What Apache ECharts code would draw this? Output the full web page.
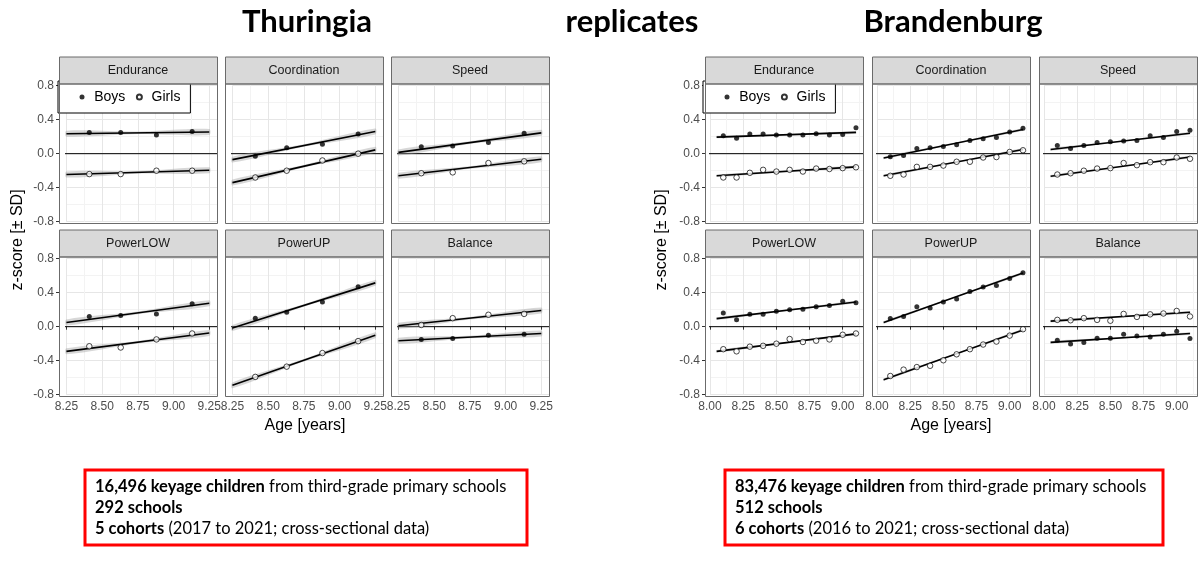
<!DOCTYPE html>
<html><head><meta charset="utf-8">
<script src="https://cdn.jsdelivr.net/npm/echarts@6/dist/echarts.min.js"></script>
<style>html,body{margin:0;padding:0;background:#fff}#c{width:1200px;height:585px}</style>
</head><body><div id="c"></div>
<script>
// ---------------- DATA ----------------
const panels = ['Endurance', 'Coordination', 'Speed', 'PowerLOW', 'PowerUP', 'Balance'];

// Thuringia
const thAges = [8.41, 8.63, 8.88, 9.13];
const thBoys = [
  [0.25, 0.25, 0.22, 0.26],
  [-0.03, 0.07, 0.11, 0.23],
  [0.08, 0.09, 0.13, 0.24],
  [0.12, 0.13, 0.15, 0.27],
  [0.10, 0.17, 0.29, 0.47],
  [-0.15, -0.14, -0.10, -0.09]
];
const thGirls = [
  [-0.24, -0.24, -0.20, -0.20],
  [-0.28, -0.20, -0.08, 0.00],
  [-0.23, -0.22, -0.11, -0.09],
  [-0.23, -0.245, -0.15, -0.08],
  [-0.59, -0.47, -0.31, -0.17],
  [0.02, 0.10, 0.14, 0.15]
];
const thFitX = [8.25, 9.25];
const thFitBoys = [[0.235, 0.255], [-0.07, 0.26], [0.015, 0.245], [0.05, 0.275], [-0.015, 0.515], [-0.165, -0.08]];
const thFitGirls = [[-0.245, -0.195], [-0.34, 0.045], [-0.26, -0.065], [-0.29, -0.075], [-0.69, -0.10], [0.01, 0.19]];
const thBandHalf = [0.035, 0.015, 0.035];
const thXLim = [8.198, 9.304];

// Brandenburg
const brAges = [8.1, 8.2, 8.3, 8.4, 8.5, 8.6, 8.7, 8.8, 8.9, 9.0, 9.1];
const brBoys = [
  [0.21, 0.18, 0.23, 0.23, 0.22, 0.22, 0.22, 0.235, 0.22, 0.225, 0.305],
  [-0.035, -0.02, 0.06, 0.07, 0.085, 0.105, 0.155, 0.175, 0.19, 0.255, 0.30],
  [0.095, 0.06, 0.095, 0.13, 0.14, 0.15, 0.155, 0.21, 0.19, 0.26, 0.275],
  [0.16, 0.08, 0.145, 0.145, 0.18, 0.20, 0.205, 0.235, 0.25, 0.30, 0.28],
  [0.095, 0.12, 0.235, 0.22, 0.29, 0.325, 0.415, 0.465, 0.485, 0.565, 0.635],
  [-0.16, -0.205, -0.185, -0.135, -0.135, -0.09, -0.11, -0.12, -0.09, -0.055, -0.14]
];
const brGirls = [
  [-0.28, -0.28, -0.225, -0.19, -0.21, -0.19, -0.21, -0.175, -0.18, -0.17, -0.16],
  [-0.26, -0.245, -0.155, -0.155, -0.14, -0.095, -0.095, -0.045, -0.04, 0.02, 0.04],
  [-0.245, -0.23, -0.20, -0.175, -0.17, -0.11, -0.135, -0.10, -0.10, -0.045, -0.06],
  [-0.265, -0.29, -0.235, -0.225, -0.20, -0.145, -0.18, -0.165, -0.15, -0.095, -0.08],
  [-0.58, -0.505, -0.475, -0.46, -0.395, -0.325, -0.265, -0.21, -0.175, -0.105, -0.03],
  [0.08, 0.075, 0.10, 0.08, 0.07, 0.15, 0.115, 0.145, 0.155, 0.185, 0.12]
];
const brFitX = [8.05, 9.1];
const brFitBoys = [[0.195, 0.25], [-0.05, 0.285], [0.05, 0.24], [0.095, 0.29], [0.05, 0.63], [-0.185, -0.08]];
const brFitGirls = [[-0.26, -0.155], [-0.26, 0.05], [-0.265, -0.04], [-0.29, -0.085], [-0.625, -0.04], [0.065, 0.17]];
const brBandHalf = [0.015, 0.007, 0.015];
const brXLim = [7.962, 9.153];

const yLim = [-0.815, 0.825];
const yTickMin = -0.8, yTickMax = 0.8, yTickStep = 0.4;
const xTickStep = 0.25;

// ---------------- LAYOUT ----------------
const regions = [
  { ages: thAges, boys: thBoys, girls: thGirls, fitX: thFitX, fitBoys: thFitBoys, fitGirls: thFitGirls,
    band: thBandHalf, xLim: thXLim, xStart: 8.25, lefts: [59, 225, 391],
    title: 'Thuringia', titleX: 307, ageX: 305, zX: 18, legendLeft: 58,
    box: [85, 470, 442, 75],
    info: '{b|16,496 keyage children} from third-grade primary schools\n{b|292 schools}\n{b|5 cohorts} (2017 to 2021; cross-sectional data)' },
  { ages: brAges, boys: brBoys, girls: brGirls, fitX: brFitX, fitBoys: brFitBoys, fitGirls: brFitGirls,
    band: brBandHalf, xLim: brXLim, xStart: 8.0, lefts: [705, 872, 1039],
    title: 'Brandenburg', titleX: 953, ageX: 951, zX: 662, legendLeft: 703,
    box: [725, 470, 438, 75],
    info: '{b|83,476 keyage children} from third-grade primary schools\n{b|512 schools}\n{b|6 cohorts} (2016 to 2021; cross-sectional data)' }
];
const PW = 158, PH = 139.5, SH = 27;
const rowTops = [83.5, 256.5];
const AX_FONT = 'Liberation Sans';

const grids = [], xAxes = [], yAxes = [], series = [], graphics = [];

function bandRenderer(pts) {
  return function (params, api) {
    if (params.dataIndex !== 0) return;
    const up = pts.map(p => api.coord([p[0], p[2]]));
    const lo = pts.slice().reverse().map(p => api.coord([p[0], p[1]]));
    return { type: 'polygon', shape: { points: up.concat(lo), smooth: 0.3 },
      style: { fill: 'rgba(150,150,150,0.38)' } };
  };
}

regions.forEach((R, ri) => {
  const ppuX = PW / (R.xLim[1] - R.xLim[0]);
  const ppuY = PH / (yLim[1] - yLim[0]);
  for (let p = 0; p < 6; p++) {
    const col = p % 3, row = Math.floor(p / 3);
    const pl = R.lefts[col], pt = rowTops[row];
    const gl = pl + (R.xStart - R.xLim[0]) * ppuX;
    const gw = pl + PW - gl;
    const gt = pt + (yLim[1] - yTickMax) * ppuY;
    const gb = pt + PH - (yTickMin - yLim[0]) * ppuY;
    const gi = grids.length;
    grids.push({ left: gl, top: gt, width: gw, height: gb - gt });
    xAxes.push({
      gridIndex: gi, type: 'value', min: R.xStart, max: R.xLim[1], interval: xTickStep,
      offset: (pt + PH) - gb,
      axisLine: { show: false },
      axisTick: { show: row === 1, length: 3, lineStyle: { color: '#333', width: 1 } },
      axisLabel: { show: row === 1, showMaxLabel: false, formatter: v => v.toFixed(2),
        color: '#4d4d4d', fontSize: 12, fontFamily: AX_FONT, margin: 5 },
      splitLine: { show: true, lineStyle: { color: '#e6e6e6', width: 1 } },
      minorTick: { show: false, splitNumber: 2 },
      minorSplitLine: { show: true, lineStyle: { color: '#f3f3f3', width: 1 } }
    });
    yAxes.push({
      gridIndex: gi, type: 'value', min: yTickMin, max: yTickMax, interval: yTickStep,
      offset: gl - pl,
      axisLine: { show: false },
      axisTick: { show: col === 0, length: 3, lineStyle: { color: '#333', width: 1 } },
      axisLabel: { show: col === 0, formatter: v => v.toFixed(1),
        color: '#4d4d4d', fontSize: 12, fontFamily: AX_FONT, margin: 5 },
      splitLine: { show: true, lineStyle: { color: '#e6e6e6', width: 1 } },
      minorTick: { show: false, splitNumber: 2 },
      minorSplitLine: { show: true, lineStyle: { color: '#f3f3f3', width: 1 } }
    });

    // zero line across panel
    series.push({ type: 'line', xAxisIndex: gi, yAxisIndex: gi, clip: false, silent: true,
      data: [[R.xLim[0], 0], [R.xLim[1], 0]], symbol: 'none', z: 2,
      lineStyle: { color: '#000', width: 1 } });

    [['Boys', R.boys[p], R.fitBoys[p]], ['Girls', R.girls[p], R.fitGirls[p]]].forEach(([name, vals, fit]) => {
      const xm = (R.fitX[0] + R.fitX[1]) / 2, ym = (fit[0] + fit[1]) / 2;
      const pts = [
        [R.fitX[0], fit[0] - R.band[0], fit[0] + R.band[0]],
        [xm, ym - R.band[1], ym + R.band[1]],
        [R.fitX[1], fit[1] - R.band[2], fit[1] + R.band[2]]
      ];
      series.push({ type: 'custom', xAxisIndex: gi, yAxisIndex: gi, silent: true, z: 3,
        renderItem: bandRenderer(pts), data: pts });
      series.push({ type: 'line', name: name + ' fit', xAxisIndex: gi, yAxisIndex: gi, silent: true, z: 4,
        data: [[R.fitX[0], fit[0]], [R.fitX[1], fit[1]]], symbol: 'none',
        lineStyle: { color: '#000', width: 1.6 } });
      series.push({ type: 'scatter', name: name, xAxisIndex: gi, yAxisIndex: gi, z: 5,
        data: R.ages.map((a, i) => [a, vals[i]]),
        symbol: 'circle', symbolSize: name === 'Boys' ? 5 : 5.5,
        itemStyle: name === 'Boys' ? { color: '#000' } : { color: '#fff', borderColor: '#000', borderWidth: 0.9 } });
    });

    // strip
    graphics.push({ type: 'rect', z: 50, shape: { x: pl + 0.5, y: pt - SH + 0.5, width: PW, height: SH },
      style: { fill: '#d9d9d9', stroke: '#6b6b6b', lineWidth: 1 } });
    graphics.push({ type: 'text', z: 51, x: pl + PW / 2, y: pt - SH / 2 + 0.5,
      style: { text: panels[p], align: 'center', verticalAlign: 'middle', fill: '#1a1a1a',
        fontSize: 12.5, fontFamily: AX_FONT } });
    // panel border
    graphics.push({ type: 'rect', z: 50, shape: { x: pl + 0.5, y: pt + 0.5, width: PW, height: PH },
      style: { fill: 'none', stroke: '#6b6b6b', lineWidth: 1 } });
  }

  // titles & axis names
  graphics.push({ type: 'text', z: 60, x: R.titleX, y: 22,
    style: { text: R.title, align: 'center', verticalAlign: 'middle', fill: '#000',
      fontSize: 31, fontWeight: 'bold', fontFamily: 'Lato' } });
  graphics.push({ type: 'text', z: 60, x: R.ageX, y: 426,
    style: { text: 'Age [years]', align: 'center', verticalAlign: 'middle', fill: '#000',
      fontSize: 16, fontFamily: AX_FONT } });
  graphics.push({ type: 'text', z: 60, x: R.zX, y: 240, rotation: Math.PI / 2,
    style: { text: 'z-score [± SD]', align: 'center', verticalAlign: 'middle', fill: '#000',
      fontSize: 16, fontFamily: AX_FONT } });
  // info box
  graphics.push({ type: 'rect', z: 60, shape: { x: R.box[0], y: R.box[1], width: R.box[2], height: R.box[3] },
    style: { fill: '#fff', stroke: '#ff0000', lineWidth: 3 } });
  graphics.push({ type: 'text', z: 61, x: R.box[0] + 10, y: R.box[1] + 6,
    style: { text: R.info, fill: '#000', fontSize: 16.5, fontFamily: 'Lato', lineHeight: 21,
      rich: { b: { fontWeight: 'bold', fontSize: 16.5, fontFamily: 'Lato', lineHeight: 21 } } } });
});

graphics.push({ type: 'text', z: 60, x: 632, y: 22,
  style: { text: 'replicates', align: 'center', verticalAlign: 'middle', fill: '#000',
    fontSize: 31, fontWeight: 'bold', fontFamily: 'Lato' } });

const legendBase = {
  top: 81, orient: 'horizontal', data: ['Boys', 'Girls'], icon: 'circle',
  itemWidth: 14.5, itemHeight: 5, itemGap: 10.5, padding: [9, 10, 9, 21.5],
  backgroundColor: '#fff', borderColor: '#000', borderWidth: 1, borderRadius: 0,
  textStyle: { color: '#000', fontSize: 14, fontFamily: AX_FONT }, selectedMode: false
};

const chart = echarts.init(document.getElementById('c'), null, { renderer: 'canvas' });
chart.setOption({
  animation: false,
  backgroundColor: '#fff',
  textStyle: { fontFamily: AX_FONT },
  grid: grids, xAxis: xAxes, yAxis: yAxes, series: series,
  legend: regions.map(R => Object.assign({ left: R.legendLeft }, legendBase)),
  graphic: { elements: graphics }
});
</script></body></html>
